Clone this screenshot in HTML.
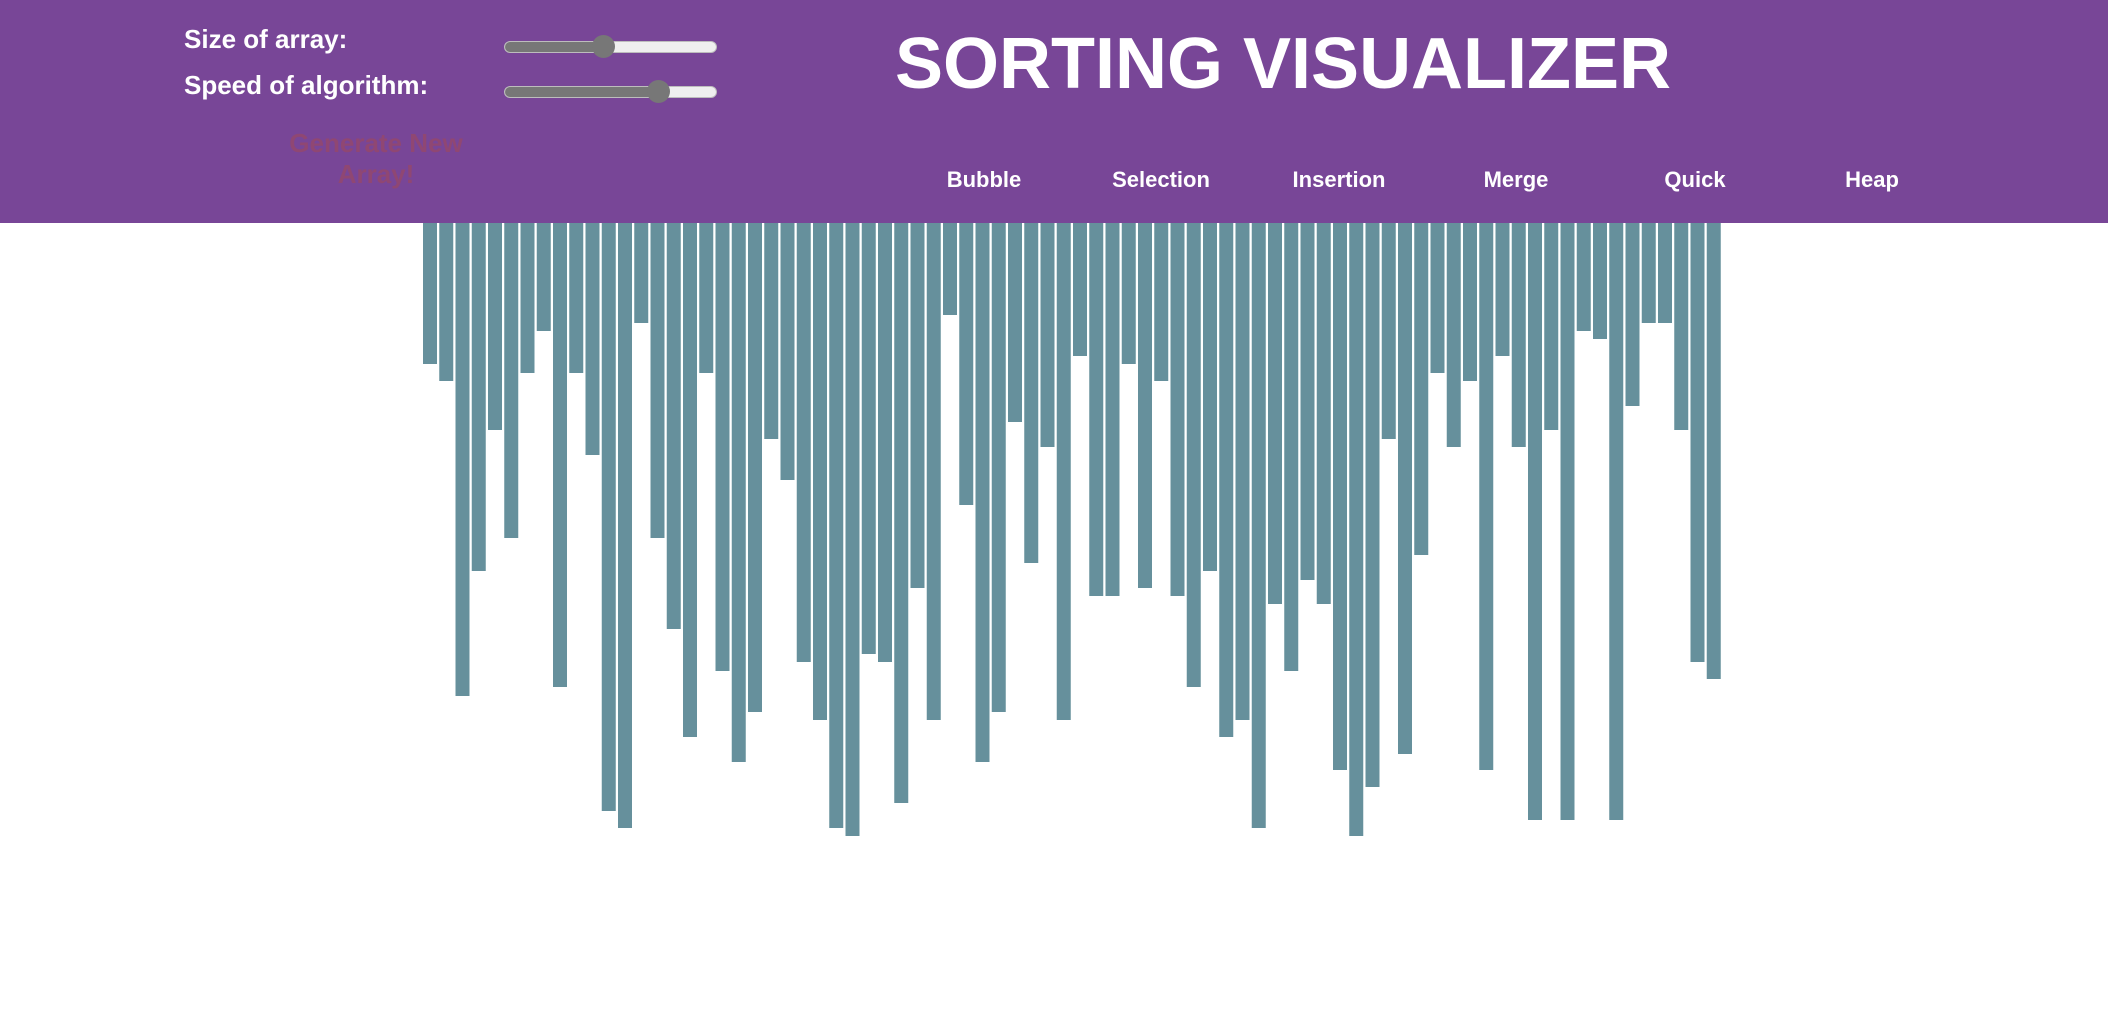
<!DOCTYPE html>
<html>
<head>
<meta charset="utf-8">
<style>
  html,body{margin:0;padding:0;}
  body{width:2108px;height:1012px;position:relative;overflow:hidden;background:#fff;font-family:"Liberation Sans",Arial,sans-serif;}
  #header{position:absolute;left:0;top:0;width:2108px;height:223px;background:#784697;}
  .lbl{position:absolute;color:#fff;font-weight:bold;font-size:26px;line-height:1;white-space:nowrap;}
  .track{position:absolute;height:10px;border-radius:6px;background:#efefef;border:1px solid #bdbdbd;overflow:hidden;}
  .fill{position:absolute;left:0;top:0;height:100%;background:#777;}
  .thumb{position:absolute;width:23px;height:23px;border-radius:50%;background:#777;}
  #gen{position:absolute;left:266px;top:128px;width:220px;text-align:center;color:#8f4773;font-weight:bold;font-size:26px;line-height:31px;}
  #title{position:absolute;left:895px;top:28px;color:#fff;font-weight:bold;font-size:72px;line-height:1;white-space:nowrap;}
  .nav{position:absolute;top:169px;width:160px;text-align:center;color:#fff;font-weight:bold;font-size:22px;line-height:1;}
  #bars{position:absolute;left:0;top:0;}
</style>
</head>
<body>
<div id="header">
  <div class="lbl" style="left:184px;top:26px;">Size of array:</div>
  <div class="lbl" style="left:184px;top:72px;">Speed of algorithm:</div>
  <div class="track" style="left:504px;top:41px;width:211px;"><div class="fill" style="width:99px;"></div></div>
  <div class="thumb" style="left:592px;top:35px;"></div>
  <div class="track" style="left:504px;top:86px;width:211px;"><div class="fill" style="width:154px;"></div></div>
  <div class="thumb" style="left:647px;top:80px;"></div>
  <div id="gen">Generate New<br>Array!</div>
  <div id="title">SORTING VISUALIZER</div>
  <div class="nav" style="left:904px;">Bubble</div>
  <div class="nav" style="left:1081px;">Selection</div>
  <div class="nav" style="left:1259px;">Insertion</div>
  <div class="nav" style="left:1436px;">Merge</div>
  <div class="nav" style="left:1615px;">Quick</div>
  <div class="nav" style="left:1792px;">Heap</div>
</div>
<svg id="bars" width="2108" height="1012"></svg>
<script>
const barValues = [141,158,473,348,207,315,150,108,464,150,232,588,605,100,315,406,514,150,448,539,489,216,257,439,497,605,613,431,439,580,365,497,92,282,539,489,199,340,224,497,133,373,
373,141,365,158,373,464,348,514,497,605,381,448,357,381,547,613,564,216,531,332,150,224,158,547,133,224,597,207,597,108,116,597,183,100,100,207,439,456];
const maxValue = 613;

const X0 = 423, PITCH = 16.25, BW = 14, Y0 = 223, HMAX = 613;
function xPos(i){ return X0 + i * PITCH; }
function yLen(v){ return v / maxValue * HMAX; }

const svg = document.getElementById('bars');
const NS = 'http://www.w3.org/2000/svg';
barValues.forEach(function(v, i){
  const r = document.createElementNS(NS, 'rect');
  r.setAttribute('x', xPos(i));
  r.setAttribute('y', Y0);
  r.setAttribute('width', BW);
  r.setAttribute('height', yLen(v));
  r.setAttribute('fill', '#66909c');
  
  
  svg.appendChild(r);
});
</script>
</body>
</html>
